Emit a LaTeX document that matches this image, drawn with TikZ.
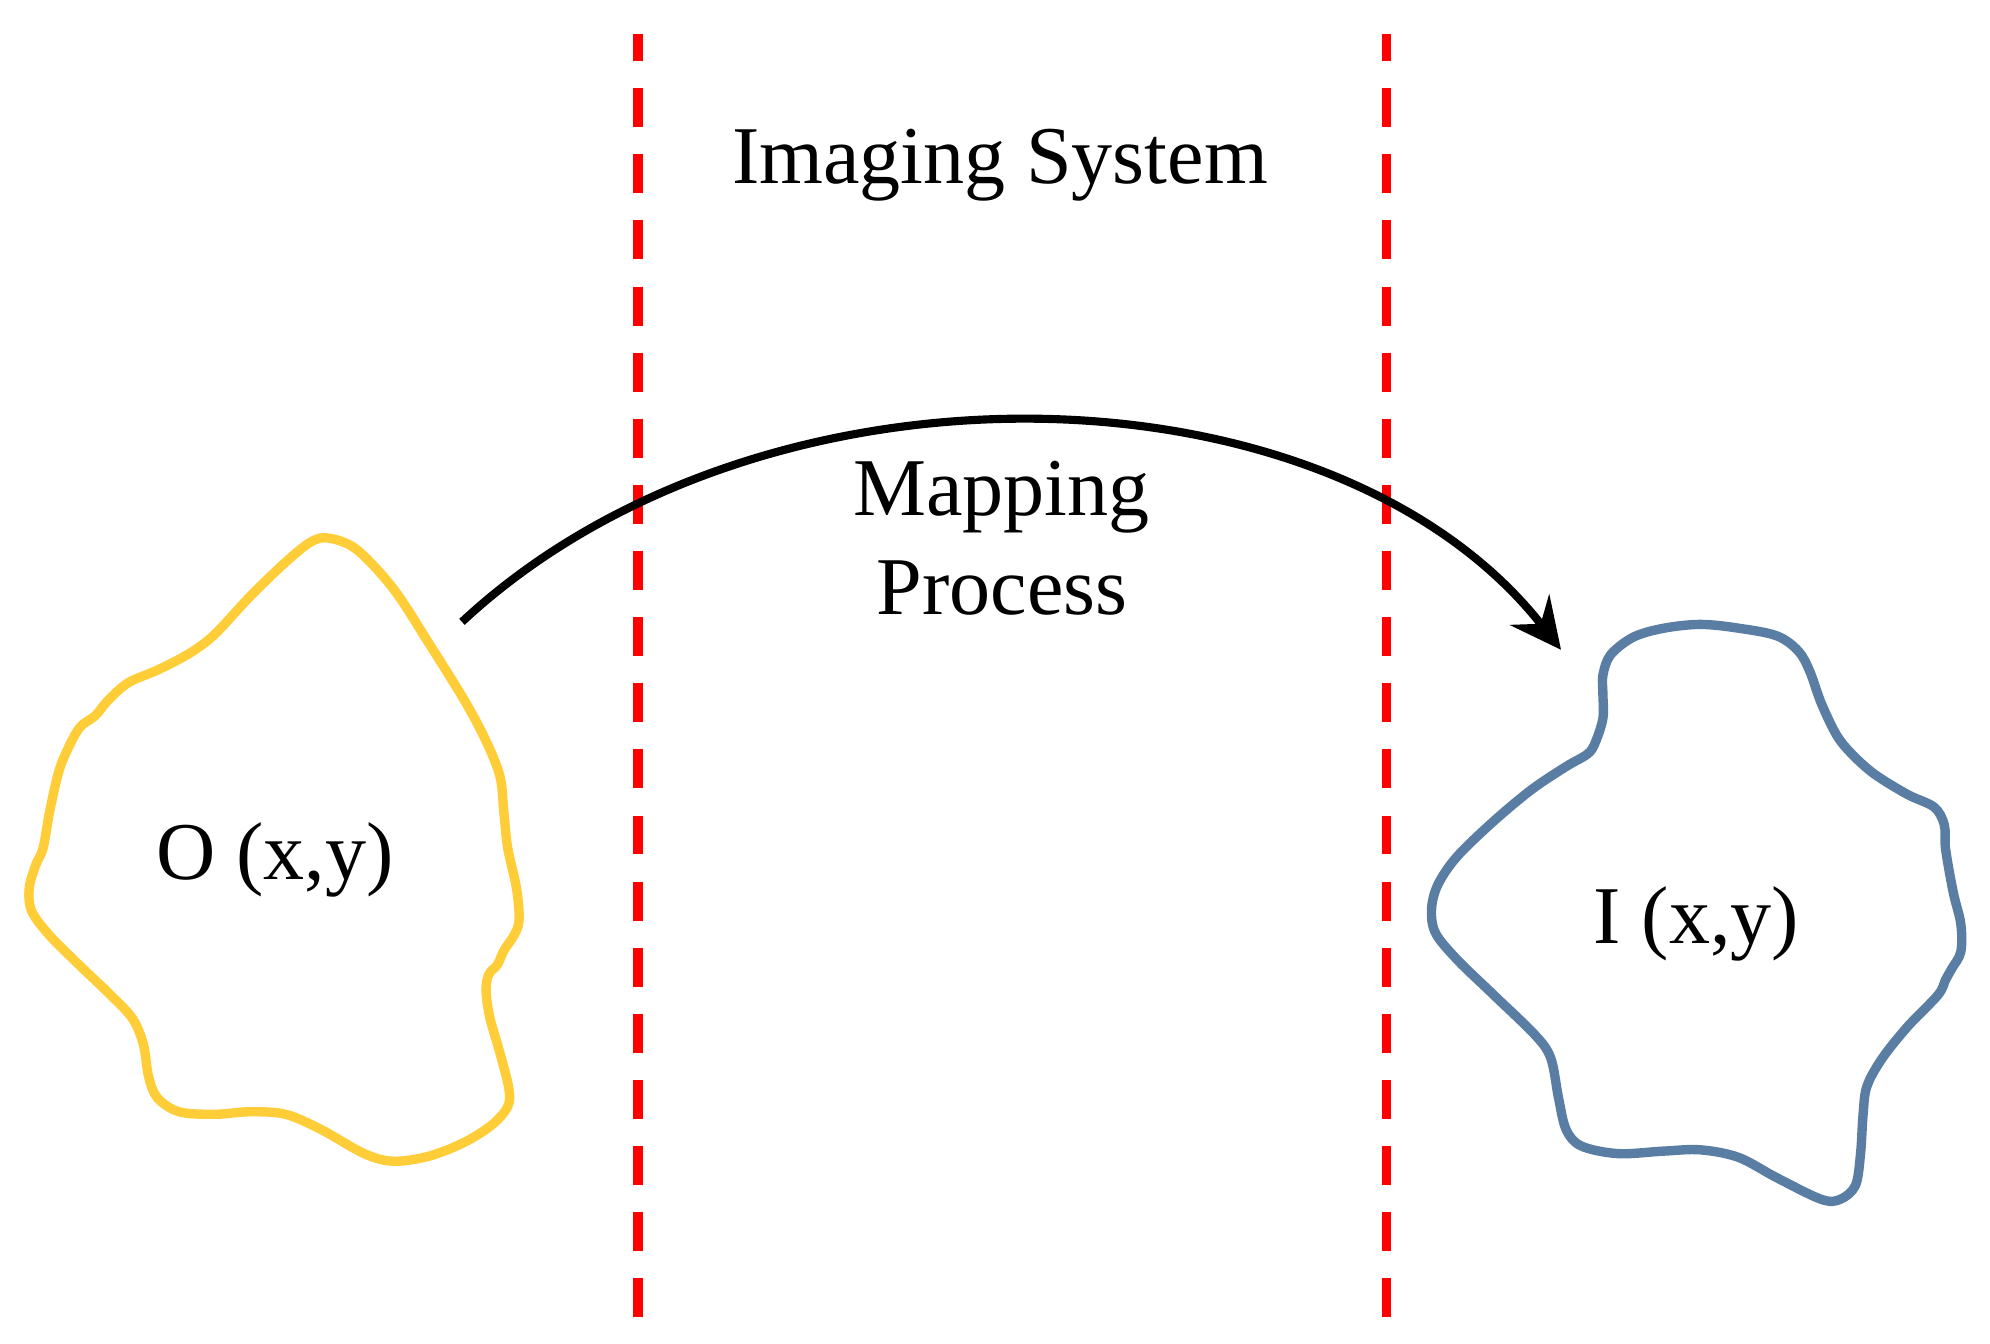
\documentclass[tikz,border=0pt]{standalone}
\usepackage{fontspec}
\setmainfont{Liberation Serif}
\usetikzlibrary{arrows.meta}
\definecolor{blobyellow}{RGB}{255,205,55}
\definecolor{blobblue}{RGB}{90,126,163}
\definecolor{sysred}{RGB}{255,0,0}
\tikzset{
  lbl/.style={inner sep=0pt, anchor=base, font=\fontsize{18.4}{22.2}\selectfont},
  sysline/.style={draw=sysred, line width=0.75mm, dash pattern=on 3.07mm off 2.14mm, dash phase=0.94mm},
  blob/.style={line width=0.74mm, line join=round},
  maparrow/.style={draw=black, line width=0.64mm, -{Stealth[length=4mm, width=3.9mm, inset=1.4mm]}}
}
\begin{document}
\begin{tikzpicture}[x=0.1mm, y=-0.1mm]
\useasboundingbox (0,0) rectangle (1568,1059);
% system boundaries
\coordinate (lt) at (502.8,26.8);
\coordinate (lb) at (502.8,1038);
\coordinate (rt) at (1092.6,26.8);
\coordinate (rb) at (1092.6,1038);
\draw[sysline] (lt) -- (lb);
\draw[sysline] (rt) -- (rb);
% object blob
\draw[blob, draw=blobyellow] plot[smooth cycle, tension=0.55] coordinates {
(259,424) (281,433) (310,464) (338,507) (366,552) (383,584) (394,612) (397,640) (400,668) (407,700) (409,725) (405,737) (397,749) (392,760) (385,768) (383,781) (386,802) (394,830) (401,858) (400,872) (388,886) (366,900) (338,911) (310,915) (287,909) (253,890) (225,878) (197,876) (169,878) (141,876) (124,865) (117,848) (113,823) (104,802) (84,781) (62,760) (39,737) (25,718) (23,700) (28,682) (34,668) (39,640) (46,609) (53,591) (63,573) (75,564) (85,552) (101,538) (124,528) (149,515) (169,500) (197,470) (225,443) (245,427)};
% image blob
\draw[blob, draw=blobblue] plot[smooth cycle, tension=0.55] coordinates {
(1263,532) (1269,516) (1287,502) (1311,495) (1340,492) (1370,495) (1400,501) (1417,513) (1426,529) (1435,554) (1447,579) (1459,594) (1477,610) (1503,626) (1524,636) (1532,650) (1533,669) (1539,703) (1545,728) (1545,750) (1538,763) (1533,772) (1527,784) (1503,809) (1483,834) (1471,856) (1468,878) (1466,909) (1462,934) (1450,945) (1435,945) (1400,928) (1370,912) (1340,906) (1311,907) (1275,909) (1246,903) (1234,890) (1228,865) (1222,834) (1210,816) (1177,784) (1148,756) (1131,735) (1128,716) (1133,697) (1148,675) (1177,647) (1207,622) (1234,604) (1251,594) (1257,585) (1263,566) (1263,547)};
% labels
\node[lbl] (sys) at (788,144.5) {Imaging System};
\node[lbl] (map1) at (789,405.8) {Mapping};
\node[lbl] (map2) at (789.6,484) {Process};
\node[lbl] (obj) at (216.7,693) {O (x,y)};
\node[lbl] (img) at (1336.7,743.3) {I (x,y)};
% mapping arrow
\coordinate (astart) at (364,490);
\coordinate (aend) at (1230,512);
\draw[maparrow] (astart) .. controls (600,270) and (1050,282) .. (aend);
\end{tikzpicture}
\end{document}
